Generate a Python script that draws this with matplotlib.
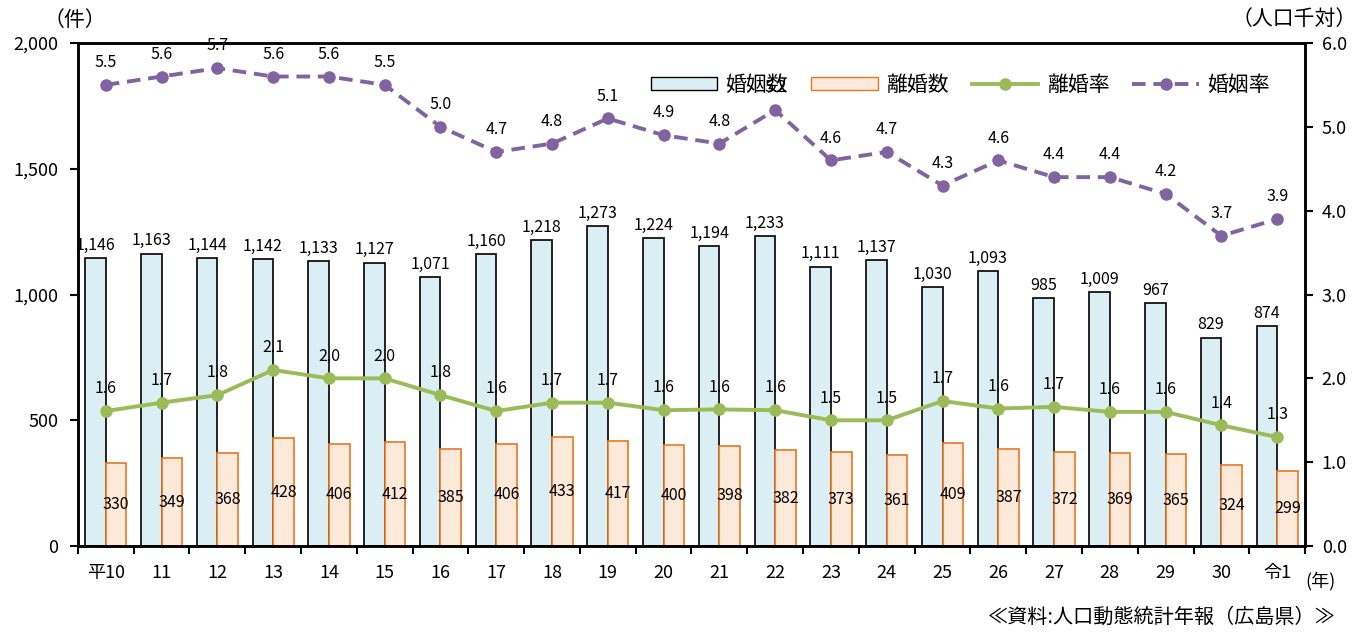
import numpy as np
import matplotlib
matplotlib.use("Agg")
import matplotlib.pyplot as plt
from matplotlib.patches import Patch
from matplotlib.lines import Line2D

plt.rcParams['font.family'] = ['Noto Sans CJK JP', 'DejaVu Sans']

years = ['平10', '11', '12', '13', '14', '15', '16', '17', '18', '19', '20',
         '21', '22', '23', '24', '25', '26', '27', '28', '29', '30', '令1']
marriages = [1146, 1163, 1144, 1142, 1133, 1127, 1071, 1160, 1218, 1273, 1224,
             1194, 1233, 1111, 1137, 1030, 1093, 985, 1009, 967, 829, 874]
divorces = [330, 349, 368, 428, 406, 412, 385, 406, 433, 417, 400,
            398, 382, 373, 361, 409, 387, 372, 369, 365, 324, 299]
marriage_rate = [5.5, 5.6, 5.7, 5.6, 5.6, 5.5, 5.0, 4.7, 4.8, 5.1, 4.9,
                 4.8, 5.2, 4.6, 4.7, 4.3, 4.6, 4.4, 4.4, 4.2, 3.7, 3.9]
divorce_rate = [1.61, 1.71, 1.80, 2.10, 2.00, 2.00, 1.80, 1.61, 1.71, 1.71, 1.62,
                1.63, 1.62, 1.50, 1.50, 1.73, 1.64, 1.66, 1.60, 1.60, 1.44, 1.30]

blue_fill = '#DAEEF3'
orange_fill = '#FDE9D9'
orange_edge = '#E87722'
green = '#9BBB59'
purple = '#8064A2'
dash = (0, (3.5, 2))

x = np.arange(len(years))
w = 0.37

fig = plt.figure(figsize=(13.67, 6.32), dpi=100)
ax = fig.add_axes([0.057, 0.136, 0.8977, 0.796])
ax2 = ax.twinx()

ax.bar(x - w / 2, marriages, w, color=blue_fill, edgecolor='black', linewidth=1.2)
ax.bar(x + w / 2, divorces, w, color=orange_fill, edgecolor=orange_edge, linewidth=1.2)

for i in range(len(x)):
    ax.annotate(f'{marriages[i]:,}', (x[i] - w / 2, marriages[i]), xytext=(0, 3),
                textcoords='offset points', ha='center', va='bottom', fontsize=11.5)
    ax.text(x[i] + w / 2, divorces[i] / 2, str(divorces[i]), ha='center', va='center',
            fontsize=11.5)

ax2.plot(x, divorce_rate, color=green, lw=2.8, marker='o', ms=8)
ax2.plot(x, marriage_rate, color=purple, lw=2.8, ls=dash, marker='o', ms=8)
for i in range(len(x)):
    ax2.annotate(f'{divorce_rate[i]:.1f}', (x[i], divorce_rate[i]), xytext=(0, 16),
                 textcoords='offset points', ha='center', va='center', fontsize=11.5)
    ax2.annotate(f'{marriage_rate[i]:.1f}', (x[i], marriage_rate[i]), xytext=(0, 16),
                 textcoords='offset points', ha='center', va='center', fontsize=11.5)

ax.set_xlim(-0.5, len(x) - 0.5)
ax.set_ylim(0, 2000)
ax2.set_ylim(0, 6)
ax.set_yticks([0, 500, 1000, 1500, 2000])
ax.set_yticklabels(['0', '500', '1,000', '1,500', '2,000'], fontsize=13)
ax2.set_yticks(np.arange(0, 6.1, 1.0))
ax2.set_yticklabels([f'{v:.1f}' for v in np.arange(0, 6.1, 1.0)], fontsize=13)

ax.set_xticks(x)
ax.set_xticklabels(years, fontsize=13)
ax.tick_params(axis='x', length=0, pad=13)
ax.set_xticks(np.arange(-0.5, len(x), 1.0), minor=True)
ax.tick_params(axis='x', which='minor', length=6, width=1.5)
ax.tick_params(axis='y', length=6, width=1.5, pad=8)
ax2.tick_params(axis='y', length=6, width=1.5, pad=6)

for a in (ax, ax2):
    for s in a.spines.values():
        s.set_linewidth(1.8)
        s.set_color('black')

fig.text(0.055, 0.968, '（件）', fontsize=15, ha='center', va='center')
fig.text(0.947, 0.970, '（人口千対）', fontsize=15, ha='center', va='center')
fig.text(0.955, 0.080, '(年)', fontsize=13, ha='left', va='center')
fig.text(0.977, 0.024, '≪資料:人口動態統計年報（広島県）≫', fontsize=14.5, ha='right', va='center')

handles = [Patch(facecolor=blue_fill, edgecolor='black', label='婚姻数'),
           Patch(facecolor=orange_fill, edgecolor=orange_edge, label='離婚数'),
           Line2D([], [], color=green, lw=2.8, marker='o', ms=8, label='離婚率'),
           Line2D([], [], color=purple, lw=2.8, ls=dash, marker='o', ms=8, label='婚姻率')]
leg = ax2.legend(handles=handles, loc='center', bbox_to_anchor=(0.719, 0.917), ncol=4,
                 frameon=False, fontsize=15, handlelength=3.2, handleheight=0.6,
                 columnspacing=1.1, handletextpad=0.4)
leg.set_zorder(10)

fig.savefig('out.png', dpi=100)
